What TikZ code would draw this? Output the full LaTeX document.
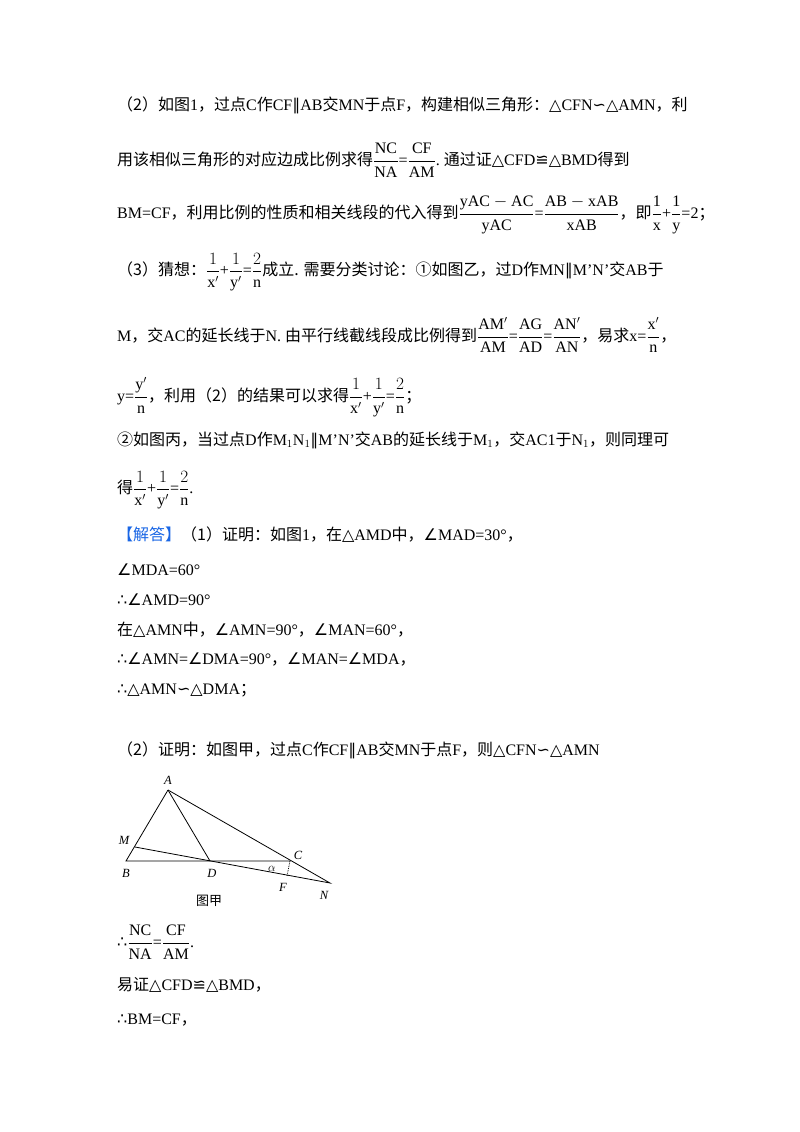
\documentclass[tikz,border=0pt]{standalone}
\usepackage{fontspec}
\setmainfont{Liberation Serif}
\newfontfamily\cjk{Noto Sans CJK SC}
\newfontfamily\djvfont{DejaVu Sans}
\newcommand{\zh}[1]{{\cjk #1}}
\newcommand{\sy}[1]{{\djvfont #1}}
\newcommand{\fr}[2]{$\displaystyle\frac{\mathrm{#1}}{\mathrm{#2}}$}
\newcommand{\pr}[1]{\mathrm{#1}^{\prime}}
\newcommand{\frq}[2]{$\displaystyle\frac{#1}{#2}$}
\begin{document}
\begin{tikzpicture}[x=1pt,y=-1pt,
  txt/.style={anchor=west,inner sep=0pt,font=\fontsize{16}{18}\selectfont},
  lab/.style={inner sep=0pt,font=\fontsize{12.5}{13}\selectfont\itshape},
  seg/.style={line width=0.8pt}]
\useasboundingbox[fill=white] (0,0) rectangle (800,1132);
\node[txt] (l1) at (117,105) {\zh{（2）如图}1\zh{，过点}C\zh{作}CF\sy{∥}AB\zh{交}MN\zh{于点}F\zh{，构建相似三角形：}\sy{△}CFN\sy{∽}\sy{△}AMN\zh{，利}};
\node[txt] (l2) at (117,160) {\zh{用该相似三角形的对应边成比例求得}\fr{NC}{NA}=\fr{CF}{AM}.\ \zh{通过证}\sy{△}CFD\sy{≌}\sy{△}BMD\zh{得到}};
\node[txt] (l3) at (117,215) {BM=CF\zh{，利用比例的性质和相关线段的代入得到}\fr{yAC-AC}{yAC}=\fr{AB-xAB}{xAB}\zh{，即}\fr{1}{x}+\fr{1}{y}=2\zh{；}};
\node[txt] (l4) at (117,272) {\zh{（3）猜想：}\frq{1}{\pr{x}}+\frq{1}{\pr{y}}=\frq{2}{\mathrm{n}}\zh{成立. 需要分类讨论：①如图乙，过}D\zh{作}MN\sy{∥}M'N'\zh{交}AB\zh{于}};
\node[txt] (l5) at (117,335) {M\zh{，交}AC\zh{的延长线于}N. \zh{由平行线截线段成比例得到}\frq{\pr{AM}}{\mathrm{AM}}=\frq{\mathrm{AG}}{\mathrm{AD}}=\frq{\pr{AN}}{\mathrm{AN}}\zh{，易求}x=\frq{\pr{x}}{\mathrm{n}}\zh{，}};
\node[txt] (l6) at (117,397) {y=\frq{\pr{y}}{\mathrm{n}}\zh{，利用（2）的结果可以求得}\frq{1}{\pr{x}}+\frq{1}{\pr{y}}=\frq{2}{\mathrm{n}}\zh{；}};
\node[txt] (l7) at (117,440) {\zh{②如图丙，当过点}D\zh{作}M$_1$N$_1$\sy{∥}M'N'\zh{交}AB\zh{的延长线于}M$_1$\zh{，交}AC1\zh{于}N$_1$\zh{，则同理可}};
\node[txt] (l8) at (117,490) {\zh{得}\frq{1}{\pr{x}}+\frq{1}{\pr{y}}=\frq{2}{\mathrm{n}}.};
\node[txt] (l9) at (117,535) {\textcolor[rgb]{0.1,0.4,0.9}{\zh{【解答】}}\zh{（1）证明：如图}1\zh{，在}\sy{△}AMD\zh{中，}\sy{∠}MAD=30°\zh{，}};
\node[txt] (l10) at (117,570) {\sy{∠}MDA=60°};
\node[txt] (l11) at (117,600) {\sy{∴∠}AMD=90°};
\node[txt] (l12) at (117,630) {\zh{在}\sy{△}AMN\zh{中，}\sy{∠}AMN=90°\zh{，}\sy{∠}MAN=60°\zh{，}};
\node[txt] (l13) at (117,660) {\sy{∴∠}AMN=\sy{∠}DMA=90°\zh{，}\sy{∠}MAN=\sy{∠}MDA\zh{，}};
\node[txt] (l14) at (117,690) {\sy{∴△}AMN\sy{∽△}DMA\zh{；}};
\node[txt] (l15) at (117,750) {\zh{（2）证明：如图甲，过点}C\zh{作}CF\sy{∥}AB\zh{交}MN\zh{于点}F\zh{，则}\sy{△}CFN\sy{∽△}AMN};
\node[txt] (l16) at (117,942) {\sy{∴}\fr{NC}{NA}=\fr{CF}{AM}.};
\node[txt] (l17) at (117,985) {\zh{易证}\sy{△}CFD\sy{≌△}BMD\zh{，}};
\node[txt] (l18) at (117,1020) {\sy{∴}BM=CF\zh{，}};
% figure
\coordinate (A) at (168,790);
\coordinate (M) at (135,847);
\coordinate (B) at (126,861);
\coordinate (D) at (210,861);
\coordinate (C) at (290,861);
\coordinate (N) at (330,883);
\coordinate (F) at (287,876);
\draw[seg] (A) -- (B) -- (C);
\draw[seg] (A) -- (N) -- (M);
\draw[seg] (A) -- (D);
\draw[seg,densely dotted] (C) -- (F);
\node[lab] (lA) at (168,780) {A};
\node[lab] (lM) at (124,840) {M};
\node[lab] (lB) at (126,873) {B};
\node[lab] (lD) at (212,873) {D};
\node[lab] (lC) at (298,855) {C};
\node[lab] (la) at (272,869) {$\alpha$};
\node[lab] (lF) at (283,887) {F};
\node[lab] (lN) at (324,895) {N};
\node[inner sep=0pt,font=\fontsize{13}{14}\selectfont\cjk] (cap) at (209,901) {图甲};
\end{tikzpicture}
\end{document}
